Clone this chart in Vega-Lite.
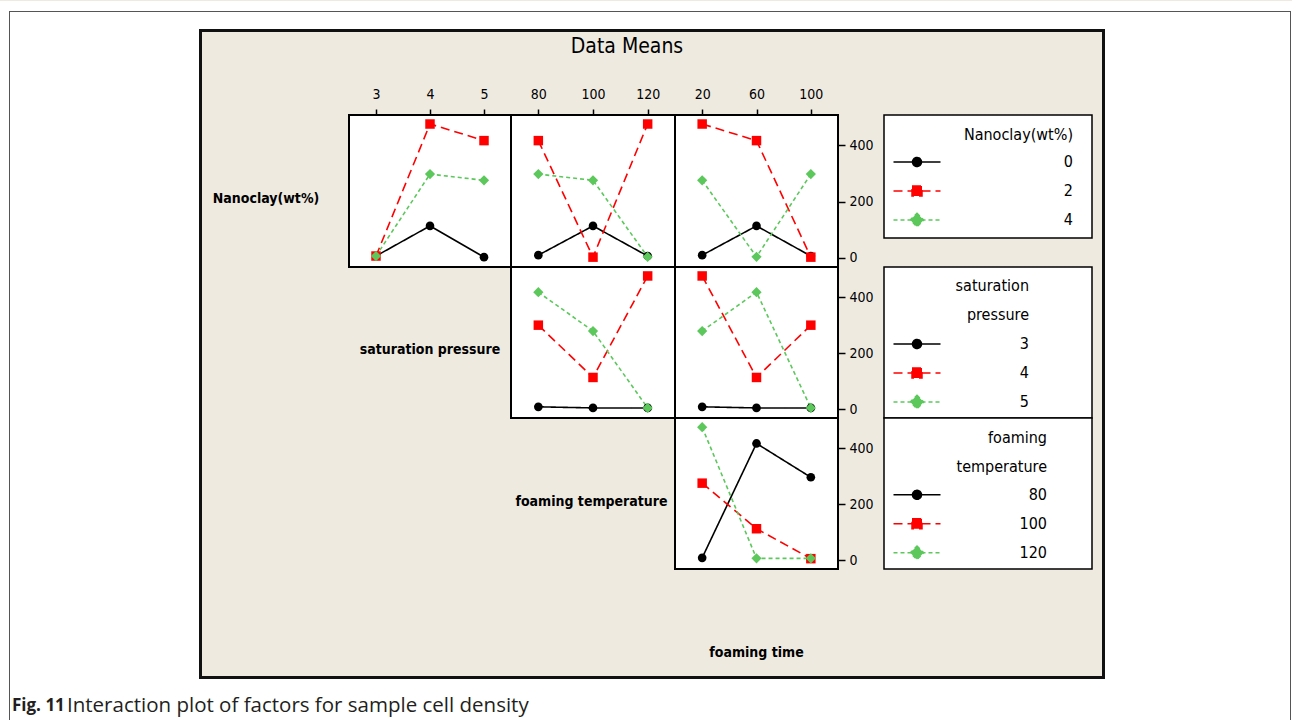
{
  "$schema": "https://vega.github.io/schema/vega-lite/v6.json",
  "padding": 0,
  "background": "#EEEAE0",
  "config": {
    "view": {"stroke": null},
    "font": "DejaVu Sans Condensed, Liberation Sans Narrow, DejaVu Sans, sans-serif"
  },
  "datasets": {
    "e": [{}],
    "means": [
      {"r": 1, "c": "sat", "x": 3, "lvl": "0", "y": 7},
      {"r": 1, "c": "sat", "x": 4, "lvl": "0", "y": 114},
      {"r": 1, "c": "sat", "x": 5, "lvl": "0", "y": 3},
      {"r": 1, "c": "sat", "x": 3, "lvl": "2", "y": 7},
      {"r": 1, "c": "sat", "x": 4, "lvl": "2", "y": 476},
      {"r": 1, "c": "sat", "x": 5, "lvl": "2", "y": 417},
      {"r": 1, "c": "sat", "x": 3, "lvl": "4", "y": 7},
      {"r": 1, "c": "sat", "x": 4, "lvl": "4", "y": 298},
      {"r": 1, "c": "sat", "x": 5, "lvl": "4", "y": 276},
      {"r": 1, "c": "temp", "x": 80, "lvl": "0", "y": 10},
      {"r": 1, "c": "temp", "x": 100, "lvl": "0", "y": 114},
      {"r": 1, "c": "temp", "x": 120, "lvl": "0", "y": 7},
      {"r": 1, "c": "temp", "x": 80, "lvl": "2", "y": 417},
      {"r": 1, "c": "temp", "x": 100, "lvl": "2", "y": 3},
      {"r": 1, "c": "temp", "x": 120, "lvl": "2", "y": 476},
      {"r": 1, "c": "temp", "x": 80, "lvl": "4", "y": 298},
      {"r": 1, "c": "temp", "x": 100, "lvl": "4", "y": 276},
      {"r": 1, "c": "temp", "x": 120, "lvl": "4", "y": 4},
      {"r": 1, "c": "time", "x": 20, "lvl": "0", "y": 10},
      {"r": 1, "c": "time", "x": 60, "lvl": "0", "y": 114},
      {"r": 1, "c": "time", "x": 100, "lvl": "0", "y": 7},
      {"r": 1, "c": "time", "x": 20, "lvl": "2", "y": 476},
      {"r": 1, "c": "time", "x": 60, "lvl": "2", "y": 417},
      {"r": 1, "c": "time", "x": 100, "lvl": "2", "y": 3},
      {"r": 1, "c": "time", "x": 20, "lvl": "4", "y": 276},
      {"r": 1, "c": "time", "x": 60, "lvl": "4", "y": 4},
      {"r": 1, "c": "time", "x": 100, "lvl": "4", "y": 298},
      {"r": 2, "c": "temp", "x": 80, "lvl": "3", "y": 8},
      {"r": 2, "c": "temp", "x": 100, "lvl": "3", "y": 4},
      {"r": 2, "c": "temp", "x": 120, "lvl": "3", "y": 4},
      {"r": 2, "c": "temp", "x": 80, "lvl": "4", "y": 300},
      {"r": 2, "c": "temp", "x": 100, "lvl": "4", "y": 113},
      {"r": 2, "c": "temp", "x": 120, "lvl": "4", "y": 476},
      {"r": 2, "c": "temp", "x": 80, "lvl": "5", "y": 418},
      {"r": 2, "c": "temp", "x": 100, "lvl": "5", "y": 279},
      {"r": 2, "c": "temp", "x": 120, "lvl": "5", "y": 4},
      {"r": 2, "c": "time", "x": 20, "lvl": "3", "y": 8},
      {"r": 2, "c": "time", "x": 60, "lvl": "3", "y": 4},
      {"r": 2, "c": "time", "x": 100, "lvl": "3", "y": 4},
      {"r": 2, "c": "time", "x": 20, "lvl": "4", "y": 476},
      {"r": 2, "c": "time", "x": 60, "lvl": "4", "y": 113},
      {"r": 2, "c": "time", "x": 100, "lvl": "4", "y": 300},
      {"r": 2, "c": "time", "x": 20, "lvl": "5", "y": 279},
      {"r": 2, "c": "time", "x": 60, "lvl": "5", "y": 418},
      {"r": 2, "c": "time", "x": 100, "lvl": "5", "y": 4},
      {"r": 3, "c": "time", "x": 20, "lvl": "80", "y": 8},
      {"r": 3, "c": "time", "x": 60, "lvl": "80", "y": 417},
      {"r": 3, "c": "time", "x": 100, "lvl": "80", "y": 296},
      {"r": 3, "c": "time", "x": 20, "lvl": "100", "y": 275},
      {"r": 3, "c": "time", "x": 60, "lvl": "100", "y": 112},
      {"r": 3, "c": "time", "x": 100, "lvl": "100", "y": 5},
      {"r": 3, "c": "time", "x": 20, "lvl": "120", "y": 475},
      {"r": 3, "c": "time", "x": 60, "lvl": "120", "y": 6},
      {"r": 3, "c": "time", "x": 100, "lvl": "120", "y": 6}
    ]
  },
  "columns": 15,
  "spacing": 0,
  "bounds": "flush",
  "align": "each",
  "resolve": {"scale": {"x": "independent", "y": "independent", "color": "independent", "fill": "independent", "stroke": "independent", "shape": "independent", "strokeDash": "independent", "size": "independent"}},
  "concat": [
    {"width": 9, "height": 10, "data": {"name": "e"}, "mark": {"type": "text", "text": ""}, "view": {"fill": "#ffffff"}},
    {"width": 1, "height": 10, "data": {"name": "e"}, "mark": {"type": "text", "text": ""}, "view": {"fill": "#ffffff"}},
    {"width": 189, "height": 10, "data": {"name": "e"}, "mark": {"type": "text", "text": ""}, "view": {"fill": "#ffffff"}},
    {"width": 3, "height": 10, "data": {"name": "e"}, "mark": {"type": "text", "text": ""}, "view": {"fill": "#ffffff"}},
    {"width": 147, "height": 10, "data": {"name": "e"}, "mark": {"type": "text", "text": ""}, "view": {"fill": "#ffffff"}},
    {"width": 162, "height": 10, "data": {"name": "e"}, "mark": {"type": "text", "text": ""}, "view": {"fill": "#ffffff"}},
    {"width": 164, "height": 10, "data": {"name": "e"}, "mark": {"type": "text", "text": ""}, "view": {"fill": "#ffffff"}},
    {"width": 163, "height": 10, "data": {"name": "e"}, "mark": {"type": "text", "text": ""}, "view": {"fill": "#ffffff"}},
    {"width": 46, "height": 10, "data": {"name": "e"}, "mark": {"type": "text", "text": ""}, "view": {"fill": "#ffffff"}},
    {"width": 208, "height": 10, "data": {"name": "e"}, "mark": {"type": "text", "text": ""}, "view": {"fill": "#ffffff"}},
    {"width": 10, "height": 10, "data": {"name": "e"}, "mark": {"type": "text", "text": ""}, "view": {"fill": "#ffffff"}},
    {"width": 3, "height": 10, "data": {"name": "e"}, "mark": {"type": "text", "text": ""}, "view": {"fill": "#ffffff"}},
    {"width": 185, "height": 10, "data": {"name": "e"}, "mark": {"type": "text", "text": ""}, "view": {"fill": "#ffffff"}},
    {"width": 1, "height": 10, "data": {"name": "e"}, "mark": {"type": "text", "text": ""}, "view": {"fill": "#ffffff"}},
    {"width": 1, "height": 10, "data": {"name": "e"}, "mark": {"type": "text", "text": ""}, "view": {"fill": "#ffffff"}},

    {"width": 9, "height": 1, "data": {"name": "e"}, "mark": {"type": "text", "text": ""}, "view": {"fill": "#ffffff"}},
    {"width": 1, "height": 1, "data": {"name": "e"}, "mark": {"type": "text", "text": ""}, "view": {"fill": "#555555"}},
    {"width": 189, "height": 1, "data": {"name": "e"}, "mark": {"type": "text", "text": ""}, "view": {"fill": "#555555"}},
    {"width": 3, "height": 1, "data": {"name": "e"}, "mark": {"type": "text", "text": ""}, "view": {"fill": "#555555"}},
    {"width": 147, "height": 1, "data": {"name": "e"}, "mark": {"type": "text", "text": ""}, "view": {"fill": "#555555"}},
    {"width": 162, "height": 1, "data": {"name": "e"}, "mark": {"type": "text", "text": ""}, "view": {"fill": "#555555"}},
    {"width": 164, "height": 1, "data": {"name": "e"}, "mark": {"type": "text", "text": ""}, "view": {"fill": "#555555"}},
    {"width": 163, "height": 1, "data": {"name": "e"}, "mark": {"type": "text", "text": ""}, "view": {"fill": "#555555"}},
    {"width": 46, "height": 1, "data": {"name": "e"}, "mark": {"type": "text", "text": ""}, "view": {"fill": "#555555"}},
    {"width": 208, "height": 1, "data": {"name": "e"}, "mark": {"type": "text", "text": ""}, "view": {"fill": "#555555"}},
    {"width": 10, "height": 1, "data": {"name": "e"}, "mark": {"type": "text", "text": ""}, "view": {"fill": "#555555"}},
    {"width": 3, "height": 1, "data": {"name": "e"}, "mark": {"type": "text", "text": ""}, "view": {"fill": "#555555"}},
    {"width": 185, "height": 1, "data": {"name": "e"}, "mark": {"type": "text", "text": ""}, "view": {"fill": "#555555"}},
    {"width": 1, "height": 1, "data": {"name": "e"}, "mark": {"type": "text", "text": ""}, "view": {"fill": "#555555"}},
    {"width": 1, "height": 1, "data": {"name": "e"}, "mark": {"type": "text", "text": ""}, "view": {"fill": "#ffffff"}},

    {"width": 9, "height": 17, "data": {"name": "e"}, "mark": {"type": "text", "text": ""}, "view": {"fill": "#ffffff"}},
    {"width": 1, "height": 17, "data": {"name": "e"}, "mark": {"type": "text", "text": ""}, "view": {"fill": "#555555"}},
    {"width": 189, "height": 17, "data": {"name": "e"}, "mark": {"type": "text", "text": ""}, "view": {"fill": "#ffffff"}},
    {"width": 3, "height": 17, "data": {"name": "e"}, "mark": {"type": "text", "text": ""}, "view": {"fill": "#ffffff"}},
    {"width": 147, "height": 17, "data": {"name": "e"}, "mark": {"type": "text", "text": ""}, "view": {"fill": "#ffffff"}},
    {"width": 162, "height": 17, "data": {"name": "e"}, "mark": {"type": "text", "text": ""}, "view": {"fill": "#ffffff"}},
    {"width": 164, "height": 17, "data": {"name": "e"}, "mark": {"type": "text", "text": ""}, "view": {"fill": "#ffffff"}},
    {"width": 163, "height": 17, "data": {"name": "e"}, "mark": {"type": "text", "text": ""}, "view": {"fill": "#ffffff"}},
    {"width": 46, "height": 17, "data": {"name": "e"}, "mark": {"type": "text", "text": ""}, "view": {"fill": "#ffffff"}},
    {"width": 208, "height": 17, "data": {"name": "e"}, "mark": {"type": "text", "text": ""}, "view": {"fill": "#ffffff"}},
    {"width": 10, "height": 17, "data": {"name": "e"}, "mark": {"type": "text", "text": ""}, "view": {"fill": "#ffffff"}},
    {"width": 3, "height": 17, "data": {"name": "e"}, "mark": {"type": "text", "text": ""}, "view": {"fill": "#ffffff"}},
    {"width": 185, "height": 17, "data": {"name": "e"}, "mark": {"type": "text", "text": ""}, "view": {"fill": "#ffffff"}},
    {"width": 1, "height": 17, "data": {"name": "e"}, "mark": {"type": "text", "text": ""}, "view": {"fill": "#555555"}},
    {"width": 1, "height": 17, "data": {"name": "e"}, "mark": {"type": "text", "text": ""}, "view": {"fill": "#ffffff"}},

    {"width": 9, "height": 3, "data": {"name": "e"}, "mark": {"type": "text", "text": ""}, "view": {"fill": "#ffffff"}},
    {"width": 1, "height": 3, "data": {"name": "e"}, "mark": {"type": "text", "text": ""}, "view": {"fill": "#555555"}},
    {"width": 189, "height": 3, "data": {"name": "e"}, "mark": {"type": "text", "text": ""}, "view": {"fill": "#ffffff"}},
    {"width": 3, "height": 3, "data": {"name": "e"}, "mark": {"type": "text", "text": ""}, "view": {"fill": "#111111"}},
    {"width": 147, "height": 3, "data": {"name": "e"}, "mark": {"type": "text", "text": ""}, "view": {"fill": "#111111"}},
    {"width": 162, "height": 3, "data": {"name": "e"}, "mark": {"type": "text", "text": ""}, "view": {"fill": "#111111"}},
    {"width": 164, "height": 3, "data": {"name": "e"}, "mark": {"type": "text", "text": ""}, "view": {"fill": "#111111"}},
    {"width": 163, "height": 3, "data": {"name": "e"}, "mark": {"type": "text", "text": ""}, "view": {"fill": "#111111"}},
    {"width": 46, "height": 3, "data": {"name": "e"}, "mark": {"type": "text", "text": ""}, "view": {"fill": "#111111"}},
    {"width": 208, "height": 3, "data": {"name": "e"}, "mark": {"type": "text", "text": ""}, "view": {"fill": "#111111"}},
    {"width": 10, "height": 3, "data": {"name": "e"}, "mark": {"type": "text", "text": ""}, "view": {"fill": "#111111"}},
    {"width": 3, "height": 3, "data": {"name": "e"}, "mark": {"type": "text", "text": ""}, "view": {"fill": "#111111"}},
    {"width": 185, "height": 3, "data": {"name": "e"}, "mark": {"type": "text", "text": ""}, "view": {"fill": "#ffffff"}},
    {"width": 1, "height": 3, "data": {"name": "e"}, "mark": {"type": "text", "text": ""}, "view": {"fill": "#555555"}},
    {"width": 1, "height": 3, "data": {"name": "e"}, "mark": {"type": "text", "text": ""}, "view": {"fill": "#ffffff"}},

    {"width": 9, "height": 29, "data": {"name": "e"}, "mark": {"type": "text", "text": ""}, "view": {"fill": "#ffffff"}},
    {"width": 1, "height": 29, "data": {"name": "e"}, "mark": {"type": "text", "text": ""}, "view": {"fill": "#555555"}},
    {"width": 189, "height": 29, "data": {"name": "e"}, "mark": {"type": "text", "text": ""}, "view": {"fill": "#ffffff"}},
    {"width": 3, "height": 29, "data": {"name": "e"}, "mark": {"type": "text", "text": ""}, "view": {"fill": "#111111"}},
    {"width": 147, "height": 29, "data": {"name": "e"}, "mark": {"type": "text", "text": ""}},
    {"width": 162, "height": 29, "data": {"name": "e"}, "mark": {"type": "text", "text": ""}},
    {"width": 164, "height": 29, "data": {"values": [{"t": "Data Means"}]}, "mark": {"type": "text", "fontSize": 21, "color": "#000000", "baseline": "middle", "dx": 34}, "encoding": {"text": {"field": "t"}}},
    {"width": 163, "height": 29, "data": {"name": "e"}, "mark": {"type": "text", "text": ""}},
    {"width": 46, "height": 29, "data": {"name": "e"}, "mark": {"type": "text", "text": ""}},
    {"width": 208, "height": 29, "data": {"name": "e"}, "mark": {"type": "text", "text": ""}},
    {"width": 10, "height": 29, "data": {"name": "e"}, "mark": {"type": "text", "text": ""}},
    {"width": 3, "height": 29, "data": {"name": "e"}, "mark": {"type": "text", "text": ""}, "view": {"fill": "#111111"}},
    {"width": 185, "height": 29, "data": {"name": "e"}, "mark": {"type": "text", "text": ""}, "view": {"fill": "#ffffff"}},
    {"width": 1, "height": 29, "data": {"name": "e"}, "mark": {"type": "text", "text": ""}, "view": {"fill": "#555555"}},
    {"width": 1, "height": 29, "data": {"name": "e"}, "mark": {"type": "text", "text": ""}, "view": {"fill": "#ffffff"}},

    {"width": 9, "height": 54, "data": {"name": "e"}, "mark": {"type": "text", "text": ""}, "view": {"fill": "#ffffff"}},
    {"width": 1, "height": 54, "data": {"name": "e"}, "mark": {"type": "text", "text": ""}, "view": {"fill": "#555555"}},
    {"width": 189, "height": 54, "data": {"name": "e"}, "mark": {"type": "text", "text": ""}, "view": {"fill": "#ffffff"}},
    {"width": 3, "height": 54, "data": {"name": "e"}, "mark": {"type": "text", "text": ""}, "view": {"fill": "#111111"}},
    {"width": 147, "height": 54, "data": {"name": "e"}, "mark": {"type": "text", "text": ""}},
    {"width": 162, "height": 54, "data": {"name": "e"}, "mark": {"type": "text", "text": ""}},
    {"width": 164, "height": 54, "data": {"name": "e"}, "mark": {"type": "text", "text": ""}},
    {"width": 163, "height": 54, "data": {"name": "e"}, "mark": {"type": "text", "text": ""}},
    {"width": 46, "height": 54, "data": {"name": "e"}, "mark": {"type": "text", "text": ""}},
    {"width": 208, "height": 54, "data": {"name": "e"}, "mark": {"type": "text", "text": ""}},
    {"width": 10, "height": 54, "data": {"name": "e"}, "mark": {"type": "text", "text": ""}},
    {"width": 3, "height": 54, "data": {"name": "e"}, "mark": {"type": "text", "text": ""}, "view": {"fill": "#111111"}},
    {"width": 185, "height": 54, "data": {"name": "e"}, "mark": {"type": "text", "text": ""}, "view": {"fill": "#ffffff"}},
    {"width": 1, "height": 54, "data": {"name": "e"}, "mark": {"type": "text", "text": ""}, "view": {"fill": "#555555"}},
    {"width": 1, "height": 54, "data": {"name": "e"}, "mark": {"type": "text", "text": ""}, "view": {"fill": "#ffffff"}},

    {"width": 9, "height": 152, "data": {"name": "e"}, "mark": {"type": "text", "text": ""}, "view": {"fill": "#ffffff"}},
    {"width": 1, "height": 152, "data": {"name": "e"}, "mark": {"type": "text", "text": ""}, "view": {"fill": "#555555"}},
    {"width": 189, "height": 152, "data": {"name": "e"}, "mark": {"type": "text", "text": ""}, "view": {"fill": "#ffffff"}},
    {"width": 3, "height": 152, "data": {"name": "e"}, "mark": {"type": "text", "text": ""}, "view": {"fill": "#111111"}},
    {"width": 147, "height": 152, "data": {"values": [{"t": "Nanoclay(wt%)"}]}, "mark": {"type": "text", "fontSize": 14, "fontWeight": "bold", "color": "#000000", "dx": -9.5, "dy": 7.5}, "encoding": {"text": {"field": "t"}}},
    {
      "width": 162, "height": 152,
      "data": {"name": "means"},
      "transform": [{"filter": "datum.r === 1 && datum.c === 'sat'"}],
      "view": {"fill": "#ffffff", "stroke": "#000000", "strokeWidth": 2},
      "encoding": {
        "x": {"field": "x", "type": "ordinal", "scale": {"type": "point", "padding": 0.5}, "axis": {"orient": "top", "title": null, "labelAngle": 0, "domain": false, "ticks": true, "tickSize": 6, "tickWidth": 1.5, "tickColor": "#000000", "labelPadding": 8, "labelFontSize": 14, "labelColor": "#000000", "grid": false}},
        "y": {"field": "y", "type": "quantitative", "scale": {"domain": [-32, 508], "nice": false, "zero": false}, "axis": null},
        "color": {"field": "lvl", "type": "nominal", "scale": {"domain": ["0", "2", "4"], "range": ["#000000", "#FF0000", "#5CC85C"]}, "legend": null}
      },
      "layer": [
        {"mark": {"type": "line", "strokeWidth": 1.6}, "encoding": {"strokeDash": {"field": "lvl", "type": "nominal", "scale": {"domain": ["0", "2", "4"], "range": [[1, 0], [9, 5], [4, 3]]}, "legend": null}}},
        {"mark": {"type": "point", "filled": true, "opacity": 1}, "encoding": {"shape": {"field": "lvl", "type": "nominal", "scale": {"domain": ["0", "2", "4"], "range": ["circle", "square", "diamond"]}, "legend": null}, "size": {"field": "lvl", "type": "ordinal", "scale": {"domain": ["0", "2", "4"], "range": [75, 105, 160]}, "legend": null}}}
      ]
    },
    {
      "width": 164, "height": 152,
      "data": {"name": "means"},
      "transform": [{"filter": "datum.r === 1 && datum.c === 'temp'"}],
      "view": {"fill": "#ffffff", "stroke": "#000000", "strokeWidth": 2},
      "encoding": {
        "x": {"field": "x", "type": "ordinal", "scale": {"type": "point", "padding": 0.5}, "axis": {"orient": "top", "title": null, "labelAngle": 0, "domain": false, "ticks": true, "tickSize": 6, "tickWidth": 1.5, "tickColor": "#000000", "labelPadding": 8, "labelFontSize": 14, "labelColor": "#000000", "grid": false}},
        "y": {"field": "y", "type": "quantitative", "scale": {"domain": [-32, 508], "nice": false, "zero": false}, "axis": null},
        "color": {"field": "lvl", "type": "nominal", "scale": {"domain": ["0", "2", "4"], "range": ["#000000", "#FF0000", "#5CC85C"]}, "legend": null}
      },
      "layer": [
        {"mark": {"type": "line", "strokeWidth": 1.6}, "encoding": {"strokeDash": {"field": "lvl", "type": "nominal", "scale": {"domain": ["0", "2", "4"], "range": [[1, 0], [9, 5], [4, 3]]}, "legend": null}}},
        {"mark": {"type": "point", "filled": true, "opacity": 1}, "encoding": {"shape": {"field": "lvl", "type": "nominal", "scale": {"domain": ["0", "2", "4"], "range": ["circle", "square", "diamond"]}, "legend": null}, "size": {"field": "lvl", "type": "ordinal", "scale": {"domain": ["0", "2", "4"], "range": [75, 105, 160]}, "legend": null}}}
      ]
    },
    {
      "width": 163, "height": 152,
      "data": {"name": "means"},
      "transform": [{"filter": "datum.r === 1 && datum.c === 'time'"}],
      "view": {"fill": "#ffffff", "stroke": "#000000", "strokeWidth": 2},
      "encoding": {
        "x": {"field": "x", "type": "ordinal", "scale": {"type": "point", "padding": 0.5}, "axis": {"orient": "top", "title": null, "labelAngle": 0, "domain": false, "ticks": true, "tickSize": 6, "tickWidth": 1.5, "tickColor": "#000000", "labelPadding": 8, "labelFontSize": 14, "labelColor": "#000000", "grid": false}},
        "y": {"field": "y", "type": "quantitative", "scale": {"domain": [-32, 508], "nice": false, "zero": false}, "axis": {"orient": "right", "values": [0, 200, 400], "title": null, "domain": false, "ticks": true, "tickSize": 7, "tickWidth": 1.5, "tickColor": "#000000", "labelPadding": 4, "labelFontSize": 14, "labelColor": "#000000", "grid": false}},
        "color": {"field": "lvl", "type": "nominal", "scale": {"domain": ["0", "2", "4"], "range": ["#000000", "#FF0000", "#5CC85C"]}, "legend": null}
      },
      "layer": [
        {"mark": {"type": "line", "strokeWidth": 1.6}, "encoding": {"strokeDash": {"field": "lvl", "type": "nominal", "scale": {"domain": ["0", "2", "4"], "range": [[1, 0], [9, 5], [4, 3]]}, "legend": null}}},
        {"mark": {"type": "point", "filled": true, "opacity": 1}, "encoding": {"shape": {"field": "lvl", "type": "nominal", "scale": {"domain": ["0", "2", "4"], "range": ["circle", "square", "diamond"]}, "legend": null}, "size": {"field": "lvl", "type": "ordinal", "scale": {"domain": ["0", "2", "4"], "range": [75, 105, 160]}, "legend": null}}}
      ]
    },
    {"width": 46, "height": 152, "data": {"name": "e"}, "mark": {"type": "text", "text": ""}},
    {
      "width": 208, "height": 123,
      "data": {"name": "means"},
      "transform": [{"filter": "datum.r === 1 && datum.c === 'sat'"}],
      "view": {"fill": "#ffffff", "stroke": "#000000", "strokeWidth": 1.5},
      "mark": {"type": "point", "filled": true, "opacity": 0},
      "encoding": {
        "fill": {"field": "lvl", "type": "nominal", "scale": {"domain": ["0", "2", "4"], "range": ["#000000", "#FF0000", "#5CC85C"]}, "legend": {"title": "Nanoclay(wt%)", "orient": "none", "direction": "vertical", "legendX": 0, "legendY": 11.5, "padding": 0, "symbolOffset": 25, "symbolSize": 100, "symbolStrokeWidth": 1.5, "symbolOpacity": 1, "symbolFillColor": "#ffffff", "symbolStrokeColor": "#000000", "labelAlign": "right", "labelBaseline": "middle", "labelOffset": 148, "labelFontSize": 16, "labelColor": "#000000", "labelLimit": 0, "titleFontSize": 16, "titleFontWeight": "normal", "titleColor": "#000000", "titleAnchor": "end", "titleAlign": "right", "titleLineHeight": 29, "titlePadding": 5, "titleLimit": 0, "clipHeight": 29, "rowPadding": 0}},
        "stroke": {"field": "lvl", "type": "nominal", "scale": {"domain": ["0", "2", "4"], "range": ["#000000", "#FF0000", "#5CC85C"]}, "legend": {"title": "Nanoclay(wt%)", "orient": "none", "direction": "vertical", "legendX": 0, "legendY": 11.5, "padding": 0, "symbolOffset": 25, "symbolSize": 100, "symbolStrokeWidth": 1.5, "symbolOpacity": 1, "symbolFillColor": "#ffffff", "symbolStrokeColor": "#000000", "labelAlign": "right", "labelBaseline": "middle", "labelOffset": 148, "labelFontSize": 16, "labelColor": "#000000", "labelLimit": 0, "titleFontSize": 16, "titleFontWeight": "normal", "titleColor": "#000000", "titleAnchor": "end", "titleAlign": "right", "titleLineHeight": 29, "titlePadding": 5, "titleLimit": 0, "clipHeight": 29, "rowPadding": 0}},
        "shape": {"field": "lvl", "type": "nominal", "scale": {"domain": ["0", "2", "4"], "range": ["M-4.7,0H4.7M-0.9,0A0.9,0.9,0,1,1,0.9,0A0.9,0.9,0,1,1,-0.9,0Z", "M-4.7,0H4.7M-1,-1H1V1H-1Z", "M-4.7,0H4.7M0,-1.35L1.35,0L0,1.35L-1.35,0Z"]}, "legend": {"title": "Nanoclay(wt%)", "orient": "none", "direction": "vertical", "legendX": 0, "legendY": 11.5, "padding": 0, "symbolOffset": 25, "symbolSize": 100, "symbolStrokeWidth": 1.5, "symbolOpacity": 1, "symbolFillColor": "#ffffff", "symbolStrokeColor": "#000000", "labelAlign": "right", "labelBaseline": "middle", "labelOffset": 148, "labelFontSize": 16, "labelColor": "#000000", "labelLimit": 0, "titleFontSize": 16, "titleFontWeight": "normal", "titleColor": "#000000", "titleAnchor": "end", "titleAlign": "right", "titleLineHeight": 29, "titlePadding": 5, "titleLimit": 0, "clipHeight": 29, "rowPadding": 0}},
        "strokeDash": {"field": "lvl", "type": "nominal", "scale": {"domain": ["0", "2", "4"], "range": [[1, 0], [9, 5], [4, 3]]}, "legend": {"title": "Nanoclay(wt%)", "orient": "none", "direction": "vertical", "legendX": 0, "legendY": 11.5, "padding": 0, "symbolOffset": 25, "symbolSize": 100, "symbolStrokeWidth": 1.5, "symbolOpacity": 1, "symbolFillColor": "#ffffff", "symbolStrokeColor": "#000000", "labelAlign": "right", "labelBaseline": "middle", "labelOffset": 148, "labelFontSize": 16, "labelColor": "#000000", "labelLimit": 0, "titleFontSize": 16, "titleFontWeight": "normal", "titleColor": "#000000", "titleAnchor": "end", "titleAlign": "right", "titleLineHeight": 29, "titlePadding": 5, "titleLimit": 0, "clipHeight": 29, "rowPadding": 0}}
      }
    },
    {"width": 10, "height": 152, "data": {"name": "e"}, "mark": {"type": "text", "text": ""}},
    {"width": 3, "height": 152, "data": {"name": "e"}, "mark": {"type": "text", "text": ""}, "view": {"fill": "#111111"}},
    {"width": 185, "height": 152, "data": {"name": "e"}, "mark": {"type": "text", "text": ""}, "view": {"fill": "#ffffff"}},
    {"width": 1, "height": 152, "data": {"name": "e"}, "mark": {"type": "text", "text": ""}, "view": {"fill": "#555555"}},
    {"width": 1, "height": 152, "data": {"name": "e"}, "mark": {"type": "text", "text": ""}, "view": {"fill": "#ffffff"}},

    {"width": 9, "height": 151, "data": {"name": "e"}, "mark": {"type": "text", "text": ""}, "view": {"fill": "#ffffff"}},
    {"width": 1, "height": 151, "data": {"name": "e"}, "mark": {"type": "text", "text": ""}, "view": {"fill": "#555555"}},
    {"width": 189, "height": 151, "data": {"name": "e"}, "mark": {"type": "text", "text": ""}, "view": {"fill": "#ffffff"}},
    {"width": 3, "height": 151, "data": {"name": "e"}, "mark": {"type": "text", "text": ""}, "view": {"fill": "#111111"}},
    {"width": 147, "height": 151, "data": {"name": "e"}, "mark": {"type": "text", "text": ""}},
    {"width": 162, "height": 151, "data": {"values": [{"t": "saturation pressure"}]}, "mark": {"type": "text", "fontSize": 14, "fontWeight": "bold", "color": "#000000", "dy": 7.5}, "encoding": {"text": {"field": "t"}}},
    {
      "width": 164, "height": 151,
      "data": {"name": "means"},
      "transform": [{"filter": "datum.r === 2 && datum.c === 'temp'"}],
      "view": {"fill": "#ffffff", "stroke": "#000000", "strokeWidth": 2},
      "encoding": {
        "x": {"field": "x", "type": "ordinal", "scale": {"type": "point", "padding": 0.5}, "axis": null},
        "y": {"field": "y", "type": "quantitative", "scale": {"domain": [-32, 508], "nice": false, "zero": false}, "axis": null},
        "color": {"field": "lvl", "type": "nominal", "scale": {"domain": ["3", "4", "5"], "range": ["#000000", "#FF0000", "#5CC85C"]}, "legend": null}
      },
      "layer": [
        {"mark": {"type": "line", "strokeWidth": 1.6}, "encoding": {"strokeDash": {"field": "lvl", "type": "nominal", "scale": {"domain": ["3", "4", "5"], "range": [[1, 0], [9, 5], [4, 3]]}, "legend": null}}},
        {"mark": {"type": "point", "filled": true, "opacity": 1}, "encoding": {"shape": {"field": "lvl", "type": "nominal", "scale": {"domain": ["3", "4", "5"], "range": ["circle", "square", "diamond"]}, "legend": null}, "size": {"field": "lvl", "type": "ordinal", "scale": {"domain": ["3", "4", "5"], "range": [75, 105, 160]}, "legend": null}}}
      ]
    },
    {
      "width": 163, "height": 151,
      "data": {"name": "means"},
      "transform": [{"filter": "datum.r === 2 && datum.c === 'time'"}],
      "view": {"fill": "#ffffff", "stroke": "#000000", "strokeWidth": 2},
      "encoding": {
        "x": {"field": "x", "type": "ordinal", "scale": {"type": "point", "padding": 0.5}, "axis": null},
        "y": {"field": "y", "type": "quantitative", "scale": {"domain": [-32, 508], "nice": false, "zero": false}, "axis": {"orient": "right", "values": [0, 200, 400], "title": null, "domain": false, "ticks": true, "tickSize": 7, "tickWidth": 1.5, "tickColor": "#000000", "labelPadding": 4, "labelFontSize": 14, "labelColor": "#000000", "grid": false}},
        "color": {"field": "lvl", "type": "nominal", "scale": {"domain": ["3", "4", "5"], "range": ["#000000", "#FF0000", "#5CC85C"]}, "legend": null}
      },
      "layer": [
        {"mark": {"type": "line", "strokeWidth": 1.6}, "encoding": {"strokeDash": {"field": "lvl", "type": "nominal", "scale": {"domain": ["3", "4", "5"], "range": [[1, 0], [9, 5], [4, 3]]}, "legend": null}}},
        {"mark": {"type": "point", "filled": true, "opacity": 1}, "encoding": {"shape": {"field": "lvl", "type": "nominal", "scale": {"domain": ["3", "4", "5"], "range": ["circle", "square", "diamond"]}, "legend": null}, "size": {"field": "lvl", "type": "ordinal", "scale": {"domain": ["3", "4", "5"], "range": [75, 105, 160]}, "legend": null}}}
      ]
    },
    {"width": 46, "height": 151, "data": {"name": "e"}, "mark": {"type": "text", "text": ""}},
    {
      "width": 208, "height": 151,
      "data": {"name": "means"},
      "transform": [{"filter": "datum.r === 2 && datum.c === 'temp'"}],
      "view": {"fill": "#ffffff", "stroke": "#000000", "strokeWidth": 1.5},
      "mark": {"type": "point", "filled": true, "opacity": 0},
      "encoding": {
        "fill": {"field": "lvl", "type": "nominal", "scale": {"domain": ["3", "4", "5"], "range": ["#000000", "#FF0000", "#5CC85C"]}, "legend": {"title": ["saturation", "pressure"], "orient": "none", "direction": "vertical", "legendX": 0, "legendY": 10.5, "padding": 0, "symbolOffset": 25, "symbolSize": 100, "symbolStrokeWidth": 1.5, "symbolOpacity": 1, "symbolFillColor": "#ffffff", "symbolStrokeColor": "#000000", "labelAlign": "right", "labelBaseline": "middle", "labelOffset": 104, "labelFontSize": 16, "labelColor": "#000000", "labelLimit": 0, "titleFontSize": 16, "titleFontWeight": "normal", "titleColor": "#000000", "titleAnchor": "end", "titleAlign": "right", "titleLineHeight": 29, "titlePadding": 7, "titleLimit": 0, "clipHeight": 29, "rowPadding": 0}},
        "stroke": {"field": "lvl", "type": "nominal", "scale": {"domain": ["3", "4", "5"], "range": ["#000000", "#FF0000", "#5CC85C"]}, "legend": {"title": ["saturation", "pressure"], "orient": "none", "direction": "vertical", "legendX": 0, "legendY": 10.5, "padding": 0, "symbolOffset": 25, "symbolSize": 100, "symbolStrokeWidth": 1.5, "symbolOpacity": 1, "symbolFillColor": "#ffffff", "symbolStrokeColor": "#000000", "labelAlign": "right", "labelBaseline": "middle", "labelOffset": 104, "labelFontSize": 16, "labelColor": "#000000", "labelLimit": 0, "titleFontSize": 16, "titleFontWeight": "normal", "titleColor": "#000000", "titleAnchor": "end", "titleAlign": "right", "titleLineHeight": 29, "titlePadding": 7, "titleLimit": 0, "clipHeight": 29, "rowPadding": 0}},
        "shape": {"field": "lvl", "type": "nominal", "scale": {"domain": ["3", "4", "5"], "range": ["M-4.7,0H4.7M-0.9,0A0.9,0.9,0,1,1,0.9,0A0.9,0.9,0,1,1,-0.9,0Z", "M-4.7,0H4.7M-1,-1H1V1H-1Z", "M-4.7,0H4.7M0,-1.35L1.35,0L0,1.35L-1.35,0Z"]}, "legend": {"title": ["saturation", "pressure"], "orient": "none", "direction": "vertical", "legendX": 0, "legendY": 10.5, "padding": 0, "symbolOffset": 25, "symbolSize": 100, "symbolStrokeWidth": 1.5, "symbolOpacity": 1, "symbolFillColor": "#ffffff", "symbolStrokeColor": "#000000", "labelAlign": "right", "labelBaseline": "middle", "labelOffset": 104, "labelFontSize": 16, "labelColor": "#000000", "labelLimit": 0, "titleFontSize": 16, "titleFontWeight": "normal", "titleColor": "#000000", "titleAnchor": "end", "titleAlign": "right", "titleLineHeight": 29, "titlePadding": 7, "titleLimit": 0, "clipHeight": 29, "rowPadding": 0}},
        "strokeDash": {"field": "lvl", "type": "nominal", "scale": {"domain": ["3", "4", "5"], "range": [[1, 0], [9, 5], [4, 3]]}, "legend": {"title": ["saturation", "pressure"], "orient": "none", "direction": "vertical", "legendX": 0, "legendY": 10.5, "padding": 0, "symbolOffset": 25, "symbolSize": 100, "symbolStrokeWidth": 1.5, "symbolOpacity": 1, "symbolFillColor": "#ffffff", "symbolStrokeColor": "#000000", "labelAlign": "right", "labelBaseline": "middle", "labelOffset": 104, "labelFontSize": 16, "labelColor": "#000000", "labelLimit": 0, "titleFontSize": 16, "titleFontWeight": "normal", "titleColor": "#000000", "titleAnchor": "end", "titleAlign": "right", "titleLineHeight": 29, "titlePadding": 7, "titleLimit": 0, "clipHeight": 29, "rowPadding": 0}}
      }
    },
    {"width": 10, "height": 151, "data": {"name": "e"}, "mark": {"type": "text", "text": ""}},
    {"width": 3, "height": 151, "data": {"name": "e"}, "mark": {"type": "text", "text": ""}, "view": {"fill": "#111111"}},
    {"width": 185, "height": 151, "data": {"name": "e"}, "mark": {"type": "text", "text": ""}, "view": {"fill": "#ffffff"}},
    {"width": 1, "height": 151, "data": {"name": "e"}, "mark": {"type": "text", "text": ""}, "view": {"fill": "#555555"}},
    {"width": 1, "height": 151, "data": {"name": "e"}, "mark": {"type": "text", "text": ""}, "view": {"fill": "#ffffff"}},

    {"width": 9, "height": 151, "data": {"name": "e"}, "mark": {"type": "text", "text": ""}, "view": {"fill": "#ffffff"}},
    {"width": 1, "height": 151, "data": {"name": "e"}, "mark": {"type": "text", "text": ""}, "view": {"fill": "#555555"}},
    {"width": 189, "height": 151, "data": {"name": "e"}, "mark": {"type": "text", "text": ""}, "view": {"fill": "#ffffff"}},
    {"width": 3, "height": 151, "data": {"name": "e"}, "mark": {"type": "text", "text": ""}, "view": {"fill": "#111111"}},
    {"width": 147, "height": 151, "data": {"name": "e"}, "mark": {"type": "text", "text": ""}},
    {"width": 162, "height": 151, "data": {"name": "e"}, "mark": {"type": "text", "text": ""}},
    {"width": 164, "height": 151, "data": {"values": [{"t": "foaming temperature"}]}, "mark": {"type": "text", "fontSize": 14, "fontWeight": "bold", "color": "#000000", "dx": -1.5, "dy": 8.5}, "encoding": {"text": {"field": "t"}}},
    {
      "width": 163, "height": 151,
      "data": {"name": "means"},
      "transform": [{"filter": "datum.r === 3 && datum.c === 'time'"}],
      "view": {"fill": "#ffffff", "stroke": "#000000", "strokeWidth": 2},
      "encoding": {
        "x": {"field": "x", "type": "ordinal", "scale": {"type": "point", "padding": 0.5}, "axis": null},
        "y": {"field": "y", "type": "quantitative", "scale": {"domain": [-32, 508], "nice": false, "zero": false}, "axis": {"orient": "right", "values": [0, 200, 400], "title": null, "domain": false, "ticks": true, "tickSize": 7, "tickWidth": 1.5, "tickColor": "#000000", "labelPadding": 4, "labelFontSize": 14, "labelColor": "#000000", "grid": false}},
        "color": {"field": "lvl", "type": "nominal", "scale": {"domain": ["80", "100", "120"], "range": ["#000000", "#FF0000", "#5CC85C"]}, "legend": null}
      },
      "layer": [
        {"mark": {"type": "line", "strokeWidth": 1.6}, "encoding": {"strokeDash": {"field": "lvl", "type": "nominal", "scale": {"domain": ["80", "100", "120"], "range": [[1, 0], [9, 5], [4, 3]]}, "legend": null}}},
        {"mark": {"type": "point", "filled": true, "opacity": 1}, "encoding": {"shape": {"field": "lvl", "type": "nominal", "scale": {"domain": ["80", "100", "120"], "range": ["circle", "square", "diamond"]}, "legend": null}, "size": {"field": "lvl", "type": "ordinal", "scale": {"domain": ["80", "100", "120"], "range": [75, 105, 160]}, "legend": null}}}
      ]
    },
    {"width": 46, "height": 151, "data": {"name": "e"}, "mark": {"type": "text", "text": ""}},
    {
      "width": 208, "height": 151,
      "data": {"name": "means"},
      "transform": [{"filter": "datum.r === 3 && datum.c === 'time'"}],
      "view": {"fill": "#ffffff", "stroke": "#000000", "strokeWidth": 1.5},
      "mark": {"type": "point", "filled": true, "opacity": 0},
      "encoding": {
        "fill": {"field": "lvl", "type": "nominal", "scale": {"domain": ["80", "100", "120"], "range": ["#000000", "#FF0000", "#5CC85C"]}, "legend": {"title": ["foaming", "temperature"], "orient": "none", "direction": "vertical", "legendX": 0, "legendY": 12.3, "padding": 0, "symbolOffset": 25, "symbolSize": 100, "symbolStrokeWidth": 1.5, "symbolOpacity": 1, "symbolFillColor": "#ffffff", "symbolStrokeColor": "#000000", "labelAlign": "right", "labelBaseline": "middle", "labelOffset": 122, "labelFontSize": 16, "labelColor": "#000000", "labelLimit": 0, "titleFontSize": 16, "titleFontWeight": "normal", "titleColor": "#000000", "titleAnchor": "end", "titleAlign": "right", "titleLineHeight": 29, "titlePadding": 5, "titleLimit": 0, "clipHeight": 29, "rowPadding": 0}},
        "stroke": {"field": "lvl", "type": "nominal", "scale": {"domain": ["80", "100", "120"], "range": ["#000000", "#FF0000", "#5CC85C"]}, "legend": {"title": ["foaming", "temperature"], "orient": "none", "direction": "vertical", "legendX": 0, "legendY": 12.3, "padding": 0, "symbolOffset": 25, "symbolSize": 100, "symbolStrokeWidth": 1.5, "symbolOpacity": 1, "symbolFillColor": "#ffffff", "symbolStrokeColor": "#000000", "labelAlign": "right", "labelBaseline": "middle", "labelOffset": 122, "labelFontSize": 16, "labelColor": "#000000", "labelLimit": 0, "titleFontSize": 16, "titleFontWeight": "normal", "titleColor": "#000000", "titleAnchor": "end", "titleAlign": "right", "titleLineHeight": 29, "titlePadding": 5, "titleLimit": 0, "clipHeight": 29, "rowPadding": 0}},
        "shape": {"field": "lvl", "type": "nominal", "scale": {"domain": ["80", "100", "120"], "range": ["M-4.7,0H4.7M-0.9,0A0.9,0.9,0,1,1,0.9,0A0.9,0.9,0,1,1,-0.9,0Z", "M-4.7,0H4.7M-1,-1H1V1H-1Z", "M-4.7,0H4.7M0,-1.35L1.35,0L0,1.35L-1.35,0Z"]}, "legend": {"title": ["foaming", "temperature"], "orient": "none", "direction": "vertical", "legendX": 0, "legendY": 12.3, "padding": 0, "symbolOffset": 25, "symbolSize": 100, "symbolStrokeWidth": 1.5, "symbolOpacity": 1, "symbolFillColor": "#ffffff", "symbolStrokeColor": "#000000", "labelAlign": "right", "labelBaseline": "middle", "labelOffset": 122, "labelFontSize": 16, "labelColor": "#000000", "labelLimit": 0, "titleFontSize": 16, "titleFontWeight": "normal", "titleColor": "#000000", "titleAnchor": "end", "titleAlign": "right", "titleLineHeight": 29, "titlePadding": 5, "titleLimit": 0, "clipHeight": 29, "rowPadding": 0}},
        "strokeDash": {"field": "lvl", "type": "nominal", "scale": {"domain": ["80", "100", "120"], "range": [[1, 0], [9, 5], [4, 3]]}, "legend": {"title": ["foaming", "temperature"], "orient": "none", "direction": "vertical", "legendX": 0, "legendY": 12.3, "padding": 0, "symbolOffset": 25, "symbolSize": 100, "symbolStrokeWidth": 1.5, "symbolOpacity": 1, "symbolFillColor": "#ffffff", "symbolStrokeColor": "#000000", "labelAlign": "right", "labelBaseline": "middle", "labelOffset": 122, "labelFontSize": 16, "labelColor": "#000000", "labelLimit": 0, "titleFontSize": 16, "titleFontWeight": "normal", "titleColor": "#000000", "titleAnchor": "end", "titleAlign": "right", "titleLineHeight": 29, "titlePadding": 5, "titleLimit": 0, "clipHeight": 29, "rowPadding": 0}}
      }
    },
    {"width": 10, "height": 151, "data": {"name": "e"}, "mark": {"type": "text", "text": ""}},
    {"width": 3, "height": 151, "data": {"name": "e"}, "mark": {"type": "text", "text": ""}, "view": {"fill": "#111111"}},
    {"width": 185, "height": 151, "data": {"name": "e"}, "mark": {"type": "text", "text": ""}, "view": {"fill": "#ffffff"}},
    {"width": 1, "height": 151, "data": {"name": "e"}, "mark": {"type": "text", "text": ""}, "view": {"fill": "#555555"}},
    {"width": 1, "height": 151, "data": {"name": "e"}, "mark": {"type": "text", "text": ""}, "view": {"fill": "#ffffff"}},

    {"width": 9, "height": 107, "data": {"name": "e"}, "mark": {"type": "text", "text": ""}, "view": {"fill": "#ffffff"}},
    {"width": 1, "height": 107, "data": {"name": "e"}, "mark": {"type": "text", "text": ""}, "view": {"fill": "#555555"}},
    {"width": 189, "height": 107, "data": {"name": "e"}, "mark": {"type": "text", "text": ""}, "view": {"fill": "#ffffff"}},
    {"width": 3, "height": 107, "data": {"name": "e"}, "mark": {"type": "text", "text": ""}, "view": {"fill": "#111111"}},
    {"width": 147, "height": 107, "data": {"name": "e"}, "mark": {"type": "text", "text": ""}},
    {"width": 162, "height": 107, "data": {"name": "e"}, "mark": {"type": "text", "text": ""}},
    {"width": 164, "height": 107, "data": {"name": "e"}, "mark": {"type": "text", "text": ""}},
    {"width": 163, "height": 107, "data": {"values": [{"t": "foaming time"}]}, "mark": {"type": "text", "fontSize": 14, "fontWeight": "bold", "color": "#000000", "dy": 30.5}, "encoding": {"text": {"field": "t"}}},
    {"width": 46, "height": 107, "data": {"name": "e"}, "mark": {"type": "text", "text": ""}},
    {"width": 208, "height": 107, "data": {"name": "e"}, "mark": {"type": "text", "text": ""}},
    {"width": 10, "height": 107, "data": {"name": "e"}, "mark": {"type": "text", "text": ""}},
    {"width": 3, "height": 107, "data": {"name": "e"}, "mark": {"type": "text", "text": ""}, "view": {"fill": "#111111"}},
    {"width": 185, "height": 107, "data": {"name": "e"}, "mark": {"type": "text", "text": ""}, "view": {"fill": "#ffffff"}},
    {"width": 1, "height": 107, "data": {"name": "e"}, "mark": {"type": "text", "text": ""}, "view": {"fill": "#555555"}},
    {"width": 1, "height": 107, "data": {"name": "e"}, "mark": {"type": "text", "text": ""}, "view": {"fill": "#ffffff"}},

    {"width": 9, "height": 3, "data": {"name": "e"}, "mark": {"type": "text", "text": ""}, "view": {"fill": "#ffffff"}},
    {"width": 1, "height": 3, "data": {"name": "e"}, "mark": {"type": "text", "text": ""}, "view": {"fill": "#555555"}},
    {"width": 189, "height": 3, "data": {"name": "e"}, "mark": {"type": "text", "text": ""}, "view": {"fill": "#ffffff"}},
    {"width": 3, "height": 3, "data": {"name": "e"}, "mark": {"type": "text", "text": ""}, "view": {"fill": "#111111"}},
    {"width": 147, "height": 3, "data": {"name": "e"}, "mark": {"type": "text", "text": ""}, "view": {"fill": "#111111"}},
    {"width": 162, "height": 3, "data": {"name": "e"}, "mark": {"type": "text", "text": ""}, "view": {"fill": "#111111"}},
    {"width": 164, "height": 3, "data": {"name": "e"}, "mark": {"type": "text", "text": ""}, "view": {"fill": "#111111"}},
    {"width": 163, "height": 3, "data": {"name": "e"}, "mark": {"type": "text", "text": ""}, "view": {"fill": "#111111"}},
    {"width": 46, "height": 3, "data": {"name": "e"}, "mark": {"type": "text", "text": ""}, "view": {"fill": "#111111"}},
    {"width": 208, "height": 3, "data": {"name": "e"}, "mark": {"type": "text", "text": ""}, "view": {"fill": "#111111"}},
    {"width": 10, "height": 3, "data": {"name": "e"}, "mark": {"type": "text", "text": ""}, "view": {"fill": "#111111"}},
    {"width": 3, "height": 3, "data": {"name": "e"}, "mark": {"type": "text", "text": ""}, "view": {"fill": "#111111"}},
    {"width": 185, "height": 3, "data": {"name": "e"}, "mark": {"type": "text", "text": ""}, "view": {"fill": "#ffffff"}},
    {"width": 1, "height": 3, "data": {"name": "e"}, "mark": {"type": "text", "text": ""}, "view": {"fill": "#555555"}},
    {"width": 1, "height": 3, "data": {"name": "e"}, "mark": {"type": "text", "text": ""}, "view": {"fill": "#ffffff"}},

    {"width": 9, "height": 42, "data": {"name": "e"}, "mark": {"type": "text", "text": ""}, "view": {"fill": "#ffffff"}},
    {"width": 1, "height": 42, "data": {"name": "e"}, "mark": {"type": "text", "text": ""}, "view": {"fill": "#555555"}},
    {"width": 189, "height": 42, "data": {"values": [{"t": "Fig. 11"}]}, "mark": {"type": "text", "align": "left", "font": "Open Sans", "fontSize": 17, "fontWeight": "bold", "color": "#231F20", "dx": -92.5, "dy": 6}, "encoding": {"text": {"field": "t"}}, "view": {"fill": "#ffffff"}},
    {"width": 3, "height": 42, "data": {"name": "e"}, "mark": {"type": "text", "text": ""}, "view": {"fill": "#ffffff"}},
    {"width": 147, "height": 42, "data": {"name": "e"}, "mark": {"type": "text", "text": ""}, "view": {"fill": "#ffffff"}},
    {"width": 162, "height": 42, "data": {"name": "e"}, "mark": {"type": "text", "text": ""}, "view": {"fill": "#ffffff"}},
    {"width": 164, "height": 42, "data": {"values": [{"t": "Interaction plot of factors for sample cell density"}]}, "mark": {"type": "text", "align": "left", "font": "Open Sans", "fontSize": 20.5, "fontWeight": "normal", "color": "#231F20", "dx": -526, "dy": 6}, "encoding": {"text": {"field": "t"}}, "view": {"fill": "#ffffff"}},
    {"width": 163, "height": 42, "data": {"name": "e"}, "mark": {"type": "text", "text": ""}, "view": {"fill": "#ffffff"}},
    {"width": 46, "height": 42, "data": {"name": "e"}, "mark": {"type": "text", "text": ""}, "view": {"fill": "#ffffff"}},
    {"width": 208, "height": 42, "data": {"name": "e"}, "mark": {"type": "text", "text": ""}, "view": {"fill": "#ffffff"}},
    {"width": 10, "height": 42, "data": {"name": "e"}, "mark": {"type": "text", "text": ""}, "view": {"fill": "#ffffff"}},
    {"width": 3, "height": 42, "data": {"name": "e"}, "mark": {"type": "text", "text": ""}, "view": {"fill": "#ffffff"}},
    {"width": 185, "height": 42, "data": {"name": "e"}, "mark": {"type": "text", "text": ""}, "view": {"fill": "#ffffff"}},
    {"width": 1, "height": 42, "data": {"name": "e"}, "mark": {"type": "text", "text": ""}, "view": {"fill": "#555555"}},
    {"width": 1, "height": 42, "data": {"name": "e"}, "mark": {"type": "text", "text": ""}, "view": {"fill": "#ffffff"}}
  ]
}
